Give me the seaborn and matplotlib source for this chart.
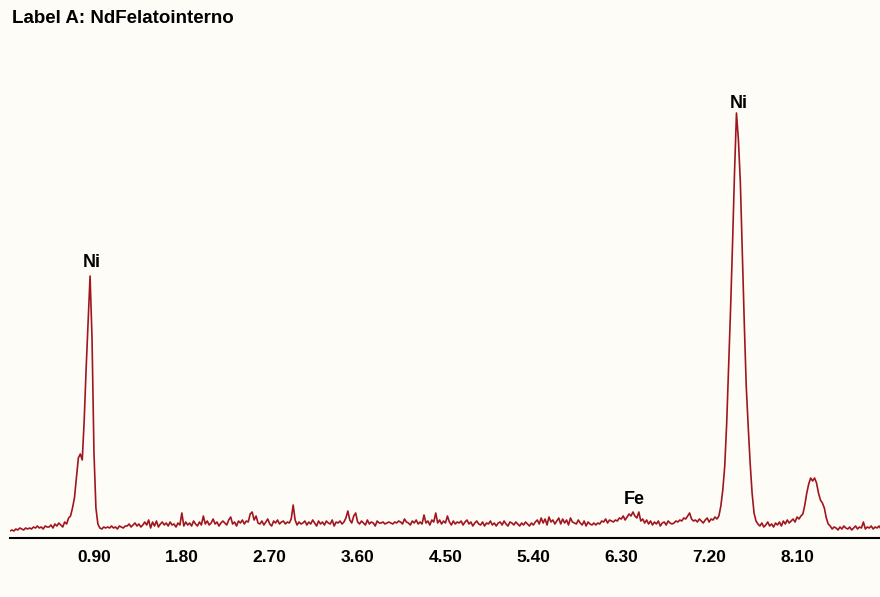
import numpy as np
import pandas as pd
import matplotlib
matplotlib.use("Agg")
import matplotlib.pyplot as plt
import seaborn as sns

# ---- data (counts, channel width 0.02 keV starting at 0.04 keV) ----
E_START = 0.04
E_STEP = 0.02
counts = [
    7, 8, 7, 9, 8, 10, 9, 8, 10, 9,            # 0.04-0.22
    10, 9, 11, 10, 12, 10, 11, 9, 12, 11,      # 0.24-0.42
    11, 13, 10, 14, 12, 15, 13, 11, 16, 14,    # 0.44-0.62
    20, 22, 30, 40, 60, 80, 84, 78, 118, 170,  # 0.64-0.82
    215, 262, 200, 85, 30, 14, 10, 9, 11, 10,  # 0.84-1.02
    11, 10, 12, 10, 11, 9, 12, 11, 10, 12,     # 1.04-1.22
    12, 14, 11, 13, 15, 12, 14, 11, 13, 16,    # 1.24-1.42
    13, 18, 10, 16, 12, 17, 11, 14, 16, 13,    # 1.44-1.62
    15, 12, 16, 13, 14, 11, 15, 13, 25, 12,    # 1.64-1.82
    16, 13, 15, 12, 17, 14, 12, 16, 13, 22,    # 1.84-2.02
    14, 17, 13, 15, 19, 14, 16, 12, 15, 17,    # 2.04-2.22
    15, 13, 18, 21, 14, 16, 12, 17, 15, 18,    # 2.24-2.42
    14, 17, 16, 24, 26, 18, 22, 15, 14, 17,    # 2.44-2.62
    13, 16, 19, 14, 12, 17, 15, 18, 14, 16,    # 2.64-2.82
    17, 14, 16, 15, 19, 33, 18, 13, 16, 14,    # 2.84-3.02
    15, 17, 13, 16, 14, 18, 15, 12, 17, 14,    # 3.04-3.22
    16, 13, 17, 15, 14, 18, 12, 16, 15, 17,    # 3.24-3.42
    14, 16, 20, 27, 18, 15, 22, 25, 16, 14,    # 3.44-3.62
    17, 15, 13, 18, 14, 16, 15, 12, 17, 15,    # 3.64-3.82
    15, 16, 14, 15, 16, 15, 14, 16, 15, 17,    # 3.84-4.02
    16, 14, 19, 16, 15, 13, 17, 15, 18, 14,    # 4.04-4.22
    16, 14, 23, 15, 17, 13, 18, 16, 25, 15,    # 4.24-4.42
    18, 14, 17, 15, 22, 16, 13, 17, 14, 16,    # 4.44-4.62
    15, 17, 13, 16, 18, 14, 16, 12, 15, 17,    # 4.64-4.82
    14, 13, 16, 12, 15, 14, 17, 13, 15, 12,    # 4.84-5.02
    15, 16, 13, 17, 14, 12, 16, 15, 13, 16,    # 5.04-5.22
    14, 12, 15, 13, 16, 14, 12, 15, 13, 16,    # 5.24-5.42
    18, 14, 20, 15, 19, 13, 21, 16, 18, 14,    # 5.44-5.62
    17, 20, 14, 19, 15, 18, 13, 20, 16, 15,    # 5.64-5.82
    14, 18, 15, 13, 17, 12, 16, 14, 13, 15,    # 5.84-6.02
    13, 15, 14, 17, 16, 19, 15, 18, 17, 16,    # 6.04-6.22
    18, 17, 20, 19, 22, 18, 21, 24, 22, 26,    # 6.24-6.42
    22, 20, 26, 17, 19, 15, 18, 14, 17, 13,    # 6.44-6.62
    16, 14, 17, 12, 15, 16, 13, 17, 15, 14,    # 6.64-6.82
    15, 17, 16, 18, 17, 20, 19, 22, 25, 19,    # 6.84-7.02
    17, 18, 16, 19, 17, 15, 18, 20, 16, 19,    # 7.04-7.22
    18, 21, 19, 22, 32, 48, 72, 115, 172, 230, # 7.24-7.42
    295, 365, 425, 398, 355, 285, 215, 152, 112, 75,  # 7.44-7.62
    45, 25, 17, 14, 12, 15, 11, 13, 16, 12,    # 7.64-7.82
    14, 11, 15, 13, 16, 12, 17, 14, 18, 15,    # 7.84-8.02
    17, 19, 16, 21, 19, 22, 24, 33, 45, 54,    # 8.04-8.22
    60, 57, 60, 55, 45, 38, 35, 30, 20, 14,    # 8.24-8.42
    12, 9, 11, 10, 8, 11, 9, 12, 10, 9,        # 8.44-8.62
    11, 8, 10, 12, 9, 11, 10, 16, 9, 11,       # 8.64-8.82
    10, 12, 9, 11, 10, 12, 9, 10, 11, 10,      # 8.84-9.02
]
energy = np.round(E_START + E_STEP * np.arange(len(counts)), 2)

tick_values = [0.90, 1.80, 2.70, 3.60, 4.50, 5.40, 6.30, 7.20, 8.10]
tick_labels = ["0.90", "1.80", "2.70", "3.60", "4.50", "5.40", "6.30", "7.20", "8.10"]

peak_labels = ["Ni", "Ni", "Fe"]
peak_x = [0.88, 7.506, 6.436]
peak_y = [275.5, 435.0, 38.5]

title = "Label A: NdFelatointerno"

df = pd.DataFrame({"energy": energy, "counts": counts})

# ---- style ----
BG = "#FEFCF7"
LINE = "#A0161F"
sns.set_style("white")
plt.rcParams["font.family"] = ["Liberation Sans", "DejaVu Sans"]

fig = plt.figure(figsize=(8.8, 5.97), dpi=100, facecolor=BG)
ax = fig.add_axes([10 / 880, 59 / 597, 870 / 880, 498 / 597])
ax.set_facecolor(BG)

sns.lineplot(data=df, x="energy", y="counts", ax=ax, color=LINE,
             linewidth=1.2, estimator=None, sort=False)

ax.set_xlim(0.04, 8.95)
ax.set_ylim(0, 498)
ax.set_xlabel("")
ax.set_ylabel("")
ax.set_yticks([])
ax.set_xticks(tick_values)
ax.set_xticklabels(tick_labels, fontsize=12.5, fontweight="bold")
ax.tick_params(axis="x", direction="inout", length=5, width=1.2,
               color="black", pad=6, labelcolor="black")
for s in ["top", "left", "right"]:
    ax.spines[s].set_visible(False)
ax.spines["bottom"].set_color("black")
ax.spines["bottom"].set_linewidth(1.5)

for lab, x, y in zip(peak_labels, peak_x, peak_y):
    ax.text(x, y, lab, ha="center", va="center", fontsize=13,
            fontweight="bold", color="black")

fig.text(12 / 880, 1 - 18.5 / 597, title, ha="left", va="center",
         fontsize=13.5, fontweight="bold", color="black")

fig.savefig("out.png", dpi=100, facecolor=BG)
